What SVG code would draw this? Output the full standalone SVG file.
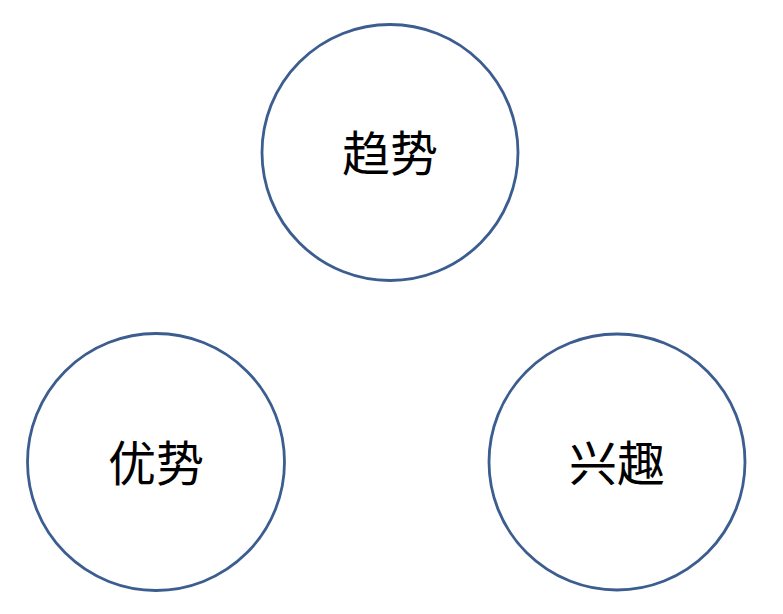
<svg xmlns="http://www.w3.org/2000/svg" width="783" height="614" viewBox="0 0 783 614">
<style>
.c{fill:#fff;stroke:#3c5d8f;stroke-width:2.8}
.t{font-family:"Noto Sans CJK SC","Noto Sans CJK JP",sans-serif;font-size:48px;fill:#000;text-anchor:middle}
</style>
<rect width="783" height="614" fill="#fff"/>
<g id="connectors"></g>
<g id="node-trend"><circle class="c" cx="390" cy="152.5" r="128"/><text class="t" x="390" y="171">趋势</text></g>
<g id="node-advantage"><circle class="c" cx="156" cy="462" r="128.5"/><text class="t" x="156" y="481">优势</text></g>
<g id="node-interest"><circle class="c" cx="617" cy="462" r="128"/><text class="t" x="617" y="481">兴趣</text></g>
</svg>
